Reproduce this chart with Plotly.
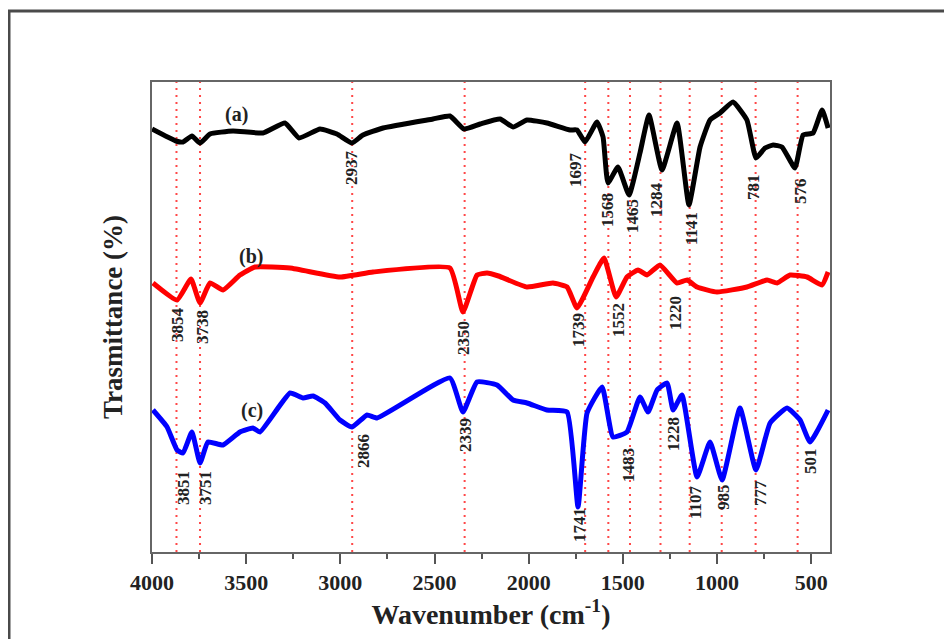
import plotly.graph_objects as go

# ---- data (arbitrary transmittance units) ----
wn_a = [4000, 3873, 3835, 3788, 3745, 3692, 3570, 3411, 3294, 3219, 3108, 3018, 2938, 2880,
        2773, 2508, 2418, 2343, 2258, 2152, 2083, 2009, 1903, 1780, 1743, 1701, 1637, 1605,
        1579, 1526, 1467, 1409, 1361, 1292, 1212, 1149, 1090, 1037, 984, 915, 841, 793, 745,
        702, 655, 586, 543, 490, 442, 410]
t_a = [423, 411, 410, 416, 409, 418, 421, 419, 429, 414, 423, 418, 409, 417,
       424, 433, 436, 423, 428, 433, 425, 432, 429, 422, 422, 410, 430, 415,
       369, 385, 357, 399, 437, 382, 429, 347, 405, 432, 439, 450, 432, 394, 404,
       407, 405, 384, 417, 419, 442, 424]

wn_b = [3995, 3867, 3793, 3745, 3692, 3623, 3533, 3453, 3267, 3002, 2826, 2418, 2349, 2274,
        2221, 2160, 2009, 1871, 1796, 1743, 1658, 1600, 1536, 1478, 1419, 1372, 1303, 1212,
        1159, 1106, 1000, 841, 734, 681, 612, 522, 442, 410]
t_b = [269, 252, 273, 249, 269, 262, 277, 285, 284, 275, 280, 284, 240, 277,
       279, 276, 265, 269, 265, 244, 275, 294, 255, 275, 282, 277, 287, 269,
       272, 265, 260, 265, 272, 269, 277, 275, 267, 280]

wn_c = [3995, 3920, 3867, 3835, 3788, 3745, 3703, 3623, 3533, 3464, 3427, 3267, 3198, 3145,
        3081, 3002, 2938, 2858, 2805, 2418, 2349, 2274, 2168, 2083, 2009, 1903, 1796, 1738,
        1690, 1610, 1552, 1478, 1409, 1366, 1318, 1265, 1233, 1186, 1106, 1037, 973, 878,
        793, 718, 628, 559, 506, 410]
t_c = [142, 125, 102, 99, 120, 89, 110, 107, 120, 124, 120, 159, 154, 156,
       149, 132, 125, 137, 134, 174, 140, 170, 167, 152, 149, 142, 140, 45,
       139, 165, 115, 120, 155, 140, 162, 169, 142, 157, 75, 110, 72, 144,
       82, 129, 144, 132, 110, 142]

marker_lines = [3870, 3745, 2937, 2340, 1700, 1577, 1462, 1300, 1145, 975, 795, 572]

x_ticks = [4000, 3500, 3000, 2500, 2000, 1500, 1000, 500]

series_names = ["(a)", "(b)", "(c)"]
series_colors = ["black", "red", "blue"]
series_label_pos = [(3549, 438), (3475, 296), (3470, 142)]

peak_labels = [
    ("2937", 2943, 384), ("1697", 1754, 382), ("1568", 1584, 342), ("1465", 1451, 336),
    ("1284", 1324, 353), ("1141", 1138, 323), ("781", 809, 365), ("576", 559, 361),
    ("3854", 3867, 227), ("3738", 3734, 225), ("2350", 2349, 214), ("1739", 1738, 222),
    ("1552", 1526, 232), ("1220", 1223, 239),
    ("3851", 3835, 64), ("3751", 3719, 64), ("2866", 2880, 101), ("2339", 2338, 117),
    ("1741", 1733, 27), ("1483", 1472, 87), ("1228", 1233, 118), ("1107", 1117, 50),
    ("985", 968, 55), ("777", 772, 59), ("501", 506, 91),
]

FONT = "Liberation Serif, Times New Roman, serif"

fig = go.Figure()

for wn, t, col in zip([wn_a, wn_b, wn_c], [t_a, t_b, t_c], series_colors):
    fig.add_trace(go.Scatter(x=wn, y=t, mode="lines",
                             line=dict(color=col, width=5, shape="spline", smoothing=0.4),
                             showlegend=False, hoverinfo="skip"))

shapes = []
for v in marker_lines:
    shapes.append(dict(type="line", xref="x", yref="paper", x0=v, x1=v, y0=0, y1=1,
                       line=dict(color="rgba(255,40,40,0.85)", width=2, dash="2px,5px"),
                       layer="below"))
# outer picture frame
shapes.append(dict(type="rect", xref="paper", yref="paper",
                   x0=(9 - 152) / 678, x1=1.5, y0=-0.5, y1=(552 - 11) / 470,
                   line=dict(color="#4a4a4a", width=3), fillcolor="rgba(0,0,0,0)",
                   layer="above"))

annotations = []
for name, (x, y) in zip(series_names, series_label_pos):
    annotations.append(dict(x=x, y=y, xref="x", yref="y", text="<b>%s</b>" % name,
                            showarrow=False, font=dict(family=FONT, size=20, color="#222"),
                            xanchor="center", yanchor="middle"))
for txt, x, y in peak_labels:
    annotations.append(dict(x=x, y=y, xref="x", yref="y", text="<b>%s</b>" % txt,
                            showarrow=False, textangle=-90,
                            font=dict(family=FONT, size=17, color="#222"),
                            xanchor="center", yanchor="middle"))

fig.update_layout(
    width=944, height=631,
    margin=dict(l=144, r=122, t=74, b=87),
    paper_bgcolor="white", plot_bgcolor="white",
    shapes=shapes, annotations=annotations,
    xaxis=dict(range=[4000, 400], tickvals=x_ticks, ticks="outside", ticklen=10,
               tickwidth=2, tickcolor="#555",
               minor=dict(dtick=250, tick0=0, ticks="outside", ticklen=5, tickwidth=2,
                          tickcolor="#555"),
               showline=True, linecolor="#666", linewidth=2, mirror=True,
               showgrid=False, zeroline=False,
               tickfont=dict(family=FONT, size=22, color="#222", weight="bold"),
               title=dict(text="<b>Wavenumber (cm<sup>-1</sup>)</b>", standoff=8,
                          font=dict(family=FONT, size=28, color="#222"))),
    yaxis=dict(range=[0, 470], showticklabels=False, ticks="",
               showline=True, linecolor="#666", linewidth=2, mirror=True,
               showgrid=False, zeroline=False,
               title=dict(text="<b>Trasmittance (%)</b>", standoff=20,
                          font=dict(family=FONT, size=27, color="#222"))),
)

fig.write_html("out.html")
